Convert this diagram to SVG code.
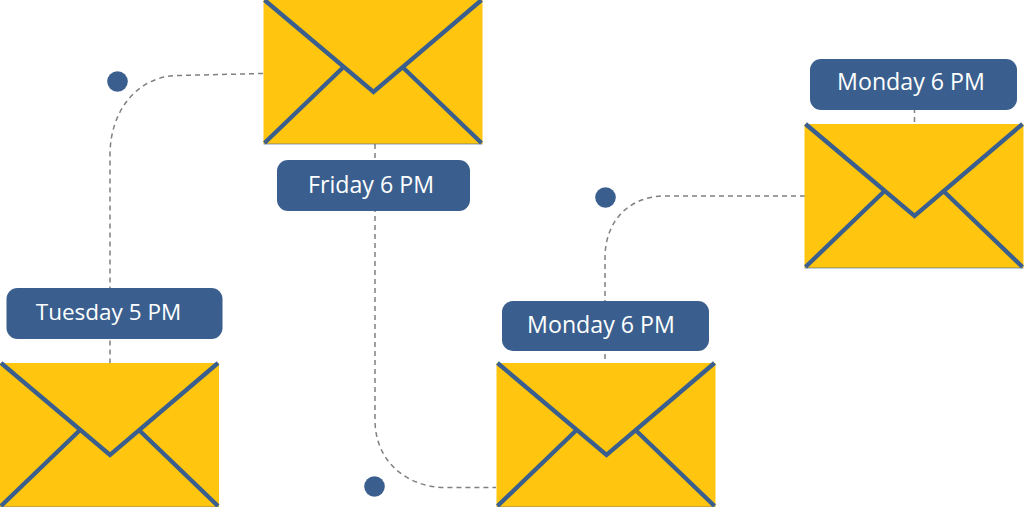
<svg xmlns="http://www.w3.org/2000/svg" width="1024" height="507" viewBox="0 0 1024 507">
  <style>
    .link { fill: none; stroke: #808080; stroke-width: 1.5; stroke-dasharray: 5 4; }
    .body { fill: #ffc50f; }
    .fold { fill: none; stroke: #3a5f8e; stroke-width: 4.300; }
    .edge { fill: none; stroke: #3a5f8e; stroke-width: 1; opacity: .6; }
    .tag { fill: #3a5f8e; }
    .dot { fill: #3a5f8e; }
    text { font-family: "Open Sans", "Noto Sans", sans-serif; font-size: 23.2px; fill: #ffffff; text-anchor: middle; }
    .narrow { font-size: 22.500px; }
  </style>
  <defs>
    <g id="envelope">
      <rect class="body" x="0" y="0" width="219" height="144"/>
      <path class="edge" d="M0 144H219"/>
      <path class="fold" d="M1 0L110 92L218 0M79 68L1 143M140 68L218 143"/>
    </g>
  </defs>

  <g id="connectors">
    <path class="link" d="M263 73.500L178 75.500C138 76 110 110 110 155V363"/>
    <path class="link" d="M375 144V420C375 460 405 487 445 487.500H496"/>
    <path class="link" d="M805 196H665C630 196 605 220 605 258V363"/>
    <path class="link" d="M914.500 108V124"/>
  </g>

  <g id="start-dots">
    <circle class="dot" cx="117.500" cy="81.500" r="10.300"/>
    <circle class="dot" cx="374.500" cy="486.500" r="10.300"/>
    <circle class="dot" cx="605.500" cy="197.500" r="10.300"/>
  </g>

  <g id="mail-friday">
    <use href="#envelope" x="263.500" y="0"/>
    <rect class="tag" x="277" y="160" width="193" height="51" rx="11"/>
    <text x="371" y="193">Friday 6 PM</text>
  </g>
  <g id="mail-tuesday">
    <use href="#envelope" x="0" y="363"/>
    <rect class="tag" x="6.500" y="288" width="216" height="51" rx="11"/>
    <text class="narrow" x="108.500" y="320">Tuesday 5 PM</text>
  </g>
  <g id="mail-monday-middle">
    <use href="#envelope" x="496.500" y="363"/>
    <rect class="tag" x="502" y="301" width="207" height="50" rx="11"/>
    <text x="601" y="333">Monday 6 PM</text>
  </g>
  <g id="mail-monday-right">
    <use href="#envelope" x="804.500" y="124"/>
    <rect class="tag" x="810" y="59" width="207" height="51" rx="11"/>
    <text x="911" y="90">Monday 6 PM</text>
  </g>
</svg>
